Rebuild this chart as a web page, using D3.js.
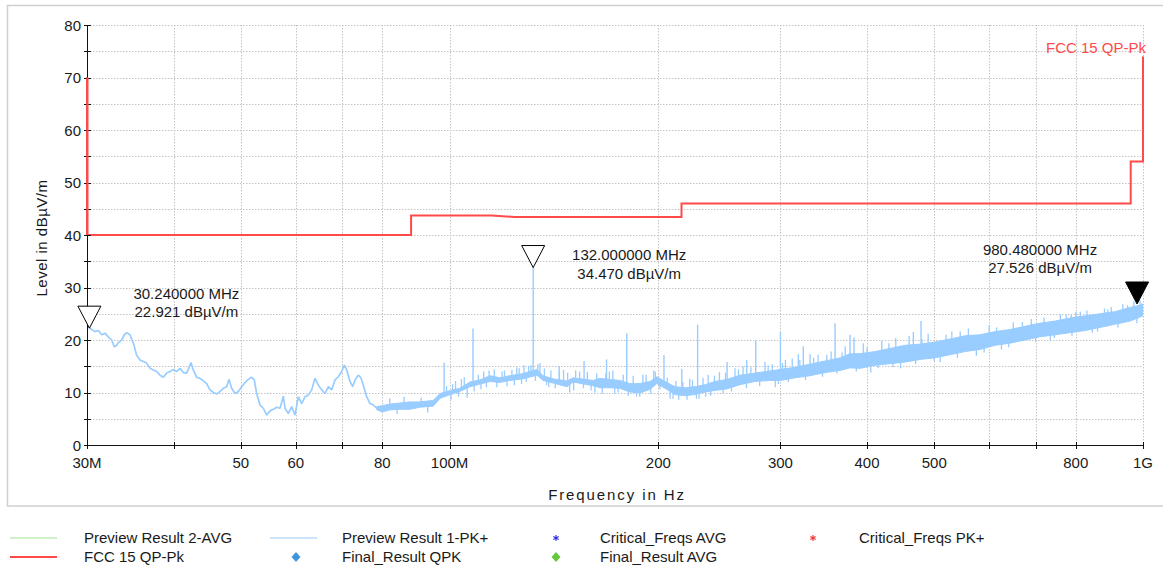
<!DOCTYPE html>
<html>
<head>
<meta charset="utf-8">
<script src="https://cdn.jsdelivr.net/npm/d3@7"></script>
<style>
  html, body { margin: 0; padding: 0; background: #fff; }
  svg { display: block; font-family: "Liberation Sans", Arial, sans-serif; }
  .tick-label { font-size: 15px; fill: #1a1a1a; }
</style>
</head>
<body>
<svg id="chart" width="1163" height="567"></svg>
<script>
// ---- axis ticks (MHz / dBµV/m) ----
const xTickValues = [30, 40, 50, 60, 70, 80, 100, 200, 300, 400, 500, 600, 700, 800, 1000];
const xGridValues = [40, 50, 60, 70, 80, 100, 200, 300, 400, 500, 600, 700, 800, 1000];
const xLabelValues = [30, 50, 60, 80, 100, 200, 300, 400, 500, 800, 1000];
const xLabelTexts = ["30M", "50", "60", "80", "100M", "200", "300", "400", "500", "800", "1G"];
const yTickValues = [0, 5, 10, 15, 20, 25, 30, 35, 40, 45, 50, 55, 60, 65, 70, 75, 80];
const yLabelValues = [0, 10, 20, 30, 40, 50, 60, 70, 80];

// ---- FCC 15 QP-Pk limit line ----
const limitFreq  = [30, 30, 88, 88, 115, 124, 216, 216, 960, 960, 1000, 1000];
const limitLevel = [70, 40, 40, 43.7, 43.7, 43.45, 43.45, 46, 46, 54, 54, 74];

// ---- Preview Result 1-PK+, 30–78.5 MHz: single trace ----
const lineFreq = [30.0, 30.13, 30.47, 30.81, 31.15, 31.50, 31.85, 32.20, 32.56, 32.85, 33.11, 33.29, 33.66,
  33.96, 34.22, 34.60, 34.99, 35.38, 35.77, 36.17, 36.57, 36.98, 37.39, 37.81, 38.23, 38.66, 39.09, 39.52,
  39.96, 40.41, 40.85, 41.31, 41.77, 42.37, 42.70, 43.18, 43.66, 44.15, 44.64, 45.13, 45.64, 46.15, 46.66,
  47.18, 47.70, 48.07, 48.50, 49.04, 49.59, 50.14, 50.70, 51.26, 51.83, 52.29, 52.70, 53.29, 53.88, 54.48,
  55.09, 55.70, 56.32, 56.95, 57.58, 57.90, 58.54, 59.20, 59.85, 60.52, 61.19, 61.88, 62.56, 63.26, 63.96,
  64.68, 65.40, 66.12, 66.86, 67.60, 68.36, 69.12, 69.89, 70.51, 71.06, 71.85, 72.49, 73.05, 73.86, 74.44,
  75.10, 75.94, 76.78, 77.64, 78.50];
const lineLevel = [22.9, 22.5, 22.0, 21.6, 21.8, 21.0, 21.3, 20.6, 20.0, 18.7, 19.0, 19.5, 20.0,
  21.0, 21.4, 21.0, 19.4, 17.1, 16.2, 15.9, 15.6, 14.6, 14.3, 14.0, 13.3, 12.9, 13.7, 14.0,
  14.4, 14.0, 14.6, 13.8, 13.7, 15.7, 14.3, 12.9, 12.7, 12.2, 11.7, 10.5, 10.0, 9.7, 10.2,
  10.8, 11.1, 12.5, 10.8, 9.8, 10.2, 11.1, 11.9, 12.5, 12.9, 12.4, 9.8, 7.6, 7.0, 5.7,
  6.5, 6.8, 7.2, 7.0, 9.3, 7.0, 6.0, 7.3, 5.7, 9.2, 7.9, 9.2, 9.5, 10.5, 12.7,
  11.4, 10.5, 9.8, 11.1, 10.5, 12.4, 13.0, 14.0, 15.2, 14.3, 12.1, 11.1, 12.4, 13.3, 12.9,
  11.4, 9.2, 7.9, 7.6, 7.0];

// ---- Preview Result 1-PK+, 78.5 MHz–1 GHz: noise band (lower / upper level) ----
const bandFreq = [78.5, 80.0, 82.1, 84.8, 87.7, 90.6, 94.7, 96.9, 100.3, 103.5, 107.0, 110.6, 114.4, 118.2,
  122.2, 127.6, 133.7, 136.4, 141, 147.7, 150.7, 161, 164.8, 170.4, 176, 182, 188.2, 194.6, 199, 204.5,
  211.4, 218.5, 225.9, 233.6, 241.4, 251.3, 262.3, 275.7, 289.8, 300, 315, 331, 348, 366, 378, 391, 411,
  432, 454, 477, 501, 527, 554, 582, 612, 643, 676, 710, 747, 785, 825, 867, 911, 958, 1000];
const bandLo = [6.7, 6.3, 6.7, 6.8, 6.8, 7.2, 7.4, 8.9, 9.6, 10.2, 11.1, 11.6, 12.1, 11.9,
  12.3, 12.6, 13.3, 12.3, 11.8, 11.1, 12.0, 11.3, 10.9, 10.9, 10.8, 10.1, 9.9, 10.6, 11.7, 10.8,
  9.6, 9.4, 9.6, 10.1, 10.4, 10.7, 11.5, 12.1, 12.3, 12.3, 12.8, 13.2, 13.8, 14.2, 14.7, 14.6, 15.2,
  15.5, 15.8, 16.3, 16.6, 17.2, 17.8, 18.2, 19.0, 19.4, 20.0, 20.6, 21.0, 21.4, 21.8, 22.4, 23.0, 23.6, 24.6];
const bandHi = [7.3, 7.5, 7.8, 8.0, 8.2, 8.2, 8.5, 9.8, 10.4, 10.8, 12.0, 12.4, 13.2, 12.8,
  13.2, 13.6, 14.4, 13.2, 12.6, 12.2, 12.8, 12.3, 12.7, 12.5, 12.3, 11.7, 11.7, 12.1, 13.0, 12.1,
  11.1, 10.9, 11.1, 11.5, 12.1, 12.5, 13.3, 13.7, 14.1, 14.4, 14.8, 15.4, 16.0, 16.6, 17.4, 17.4, 17.8,
  18.4, 19.0, 19.2, 19.6, 20.2, 20.8, 21.0, 21.6, 22.0, 22.6, 23.2, 23.6, 24.2, 24.6, 25.0, 25.4, 26.2, 26.8];

// ---- narrowband spikes rising out of the noise floor ----
const spikeFreq  = [98.2, 108.1, 132, 143.9, 156.3, 168.4, 180.1, 203.8, 216.2, 227.9, 251.3, 268.2, 276.4,
  300, 318.4, 323.7, 331, 359.7, 378, 383, 466.5, 478.5, 788, 800];
const spikeLevel = [15.7, 22.2, 34.47, 15.0, 16.0, 16.3, 21.3, 17.1, 14.5, 22.9, 15.8, 16.2, 19.9,
  21.5, 17.3, 18.8, 17.3, 23.2, 21.0, 20.5, 21.5, 23.6, 24.8, 25.4];

// ---- short noise excursions above / below the band ----
const hairFreq = [82, 84, 86, 91, 93, 99, 100.5, 101, 102, 103, 104, 105, 106, 108.5, 110, 111, 112, 113, 114,
  116, 117, 119, 120, 121, 123, 124, 125, 126, 127, 128, 129, 130, 131, 133, 134, 135, 137, 138, 139, 140,
  142, 144, 146, 148, 149, 151, 152, 154, 156, 158, 160, 162, 163, 166, 168, 170, 172, 173, 175, 178, 181,
  184, 186, 188, 190, 192, 195, 197, 198, 201, 206, 208, 210, 212, 214, 217, 220, 222, 224, 227, 229, 232,
  234, 236, 238, 241, 245, 248, 250, 255, 258, 261, 265, 268, 272, 280, 285, 288, 292, 295, 298, 302, 305,
  308, 312, 320, 326, 335, 340, 345, 350, 355, 362, 368, 372, 386, 395, 400, 405, 415, 420, 430, 436, 440,
  447, 460, 470, 480, 490, 500, 510, 520, 530, 540, 545, 560, 575, 590, 600, 615, 625, 640, 650, 670, 690,
  700, 720, 735, 745, 760, 775, 790, 812, 830, 845, 860, 880, 890, 900, 920, 935, 950, 970, 980, 990, 995];
const hairLevel = [8.9, 5.9, 9.2, 9.0, 6.2, 11.2, 8.6, 11.6, 12.2, 9.2, 12.6, 12.9, 9.0, 10.2, 13.4, 10.6, 14.0, 11.0, 14.2,
  14.4, 11.0, 14.0, 14.2, 11.2, 14.3, 11.4, 14.8, 14.6, 11.6, 15.2, 12.0, 15.0, 15.2, 12.2, 15.4, 15.6, 14.6, 11.4, 11.0, 14.2,
  10.8, 13.9, 14.3, 13.8, 10.0, 10.4, 14.2, 14.0, 10.8, 13.9, 10.4, 10.0, 13.6, 9.8, 13.6, 14.0, 14.2, 9.8, 10.0, 13.4, 9.4,
  13.2, 9.2, 9.2, 13.4, 13.4, 9.8, 14.2, 14.0, 10.6, 12.8, 8.8, 8.8, 12.2, 8.6, 12.0, 8.6, 12.6, 12.4, 8.8, 8.8, 12.8,
  9.2, 13.4, 9.4, 13.2, 13.9, 9.8, 13.8, 10.2, 14.6, 14.4, 15.0, 10.8, 14.8, 11.2, 15.8, 15.2, 15.4, 11.0, 11.6, 15.6, 16.2,
  12.0, 16.5, 16.2, 12.4, 16.6, 17.2, 13.0, 17.2, 17.8, 13.6, 17.6, 18.8, 14.0, 19.4, 18.6, 13.8, 14.6, 19.8, 19.4, 14.8, 20.4,
  14.6, 20.8, 15.4, 20.2, 21.2, 16.0, 15.8, 21.0, 21.6, 16.6, 21.6, 22.2, 17.0, 17.6, 22.8, 22.4, 18.2, 18.6, 23.4, 23.4, 24.0,
  19.6, 24.3, 20.0, 20.4, 24.9, 24.8, 20.8, 25.4, 25.6, 21.4, 21.6, 26.0, 25.8, 26.3, 22.4, 26.8, 26.6, 27.4, 23.2, 27.6, 27.0];

// ---- markers ----
const markerFreq   = [30.24, 132, 980.48];
const markerLevel  = [22.921, 34.47, 27.526];
const markerFilled = [false, false, true];
const markerFreqText  = ["30.240000 MHz", "132.000000 MHz", "980.480000 MHz"];
const markerLevelText = ["22.921 dBµV/m", "34.470 dBµV/m", "27.526 dBµV/m"];

// ---- legend ----
const legendNames = ["Preview Result 2-AVG", "Preview Result 1-PK+", "Critical_Freqs AVG", "Critical_Freqs PK+",
  "FCC 15 QP-Pk", "Final_Result QPK", "Final_Result AVG"];
const legendKinds = ["line", "line", "star", "star", "line", "diamond", "diamond"];
const legendColors = ["#9be58c", "#99c9f5", "#2b2bf0", "#f03030", "#ff4a4a", "#3f95dc", "#66c83a"];

// ---------------------------------------------------------------------------
const svg = d3.select("#chart");
const W = 1163;
const plot = { left: 87, right: 1143, top: 25, bottom: 445 };

const x = d3.scaleLog().domain([30, 1000]).range([plot.left, plot.right]);
const y = d3.scaleLinear().domain([0, 80]).range([plot.bottom, plot.top]);

const textColor = "#1a1a1a";
const blue = "#99ccff";
const red = "#ff4a4a";

// outer frame
svg.append("rect")
  .attr("x", 7.5).attr("y", 5.5).attr("width", W + 10).attr("height", 500.5)
  .attr("fill", "none").attr("stroke", "#cfcfcf").attr("stroke-width", 1.5);

// grid
const grid = svg.append("g").attr("stroke", "#c4c4c4").attr("stroke-width", 1)
  .attr("stroke-dasharray", "1.5,1.5").attr("fill", "none");
grid.selectAll("line.h").data(yTickValues.filter(v => v > 0)).join("line")
  .attr("x1", plot.left).attr("x2", plot.right)
  .attr("y1", d => Math.round(y(d)) + 0.5).attr("y2", d => Math.round(y(d)) + 0.5);
grid.selectAll("line.v").data(xGridValues).join("line")
  .attr("x1", d => Math.round(x(d)) + 0.5).attr("x2", d => Math.round(x(d)) + 0.5)
  .attr("y1", plot.top).attr("y2", plot.bottom);

// clip for data
svg.append("clipPath").attr("id", "plotClip").append("rect")
  .attr("x", plot.left).attr("y", plot.top)
  .attr("width", plot.right - plot.left).attr("height", plot.bottom - plot.top);

const dataG = svg.append("g").attr("clip-path", "url(#plotClip)");

// low-frequency trace
dataG.append("path")
  .datum(lineFreq.map((f, i) => ({ f, v: lineLevel[i] })))
  .attr("d", d3.line().x(d => x(d.f)).y(d => y(d.v)))
  .attr("fill", "none").attr("stroke", blue).attr("stroke-width", 1.7).attr("stroke-linejoin", "bevel");

// noise band
const band = bandFreq.map((f, i) => ({ f, lo: bandLo[i], hi: bandHi[i] }));
dataG.append("path")
  .datum(band)
  .attr("d", d3.area().x(d => x(d.f)).y0(d => y(d.lo)).y1(d => y(d.hi)))
  .attr("fill", blue).attr("stroke", blue).attr("stroke-width", 1).attr("stroke-linejoin", "bevel");

// vertical strokes from the middle of the band out to a level
const bisect = d3.bisector(d => d.f).left;
function bandMid(f) {
  const i = Math.min(Math.max(bisect(band, f), 1), band.length - 1);
  const a = band[i - 1], b = band[i];
  const t = (Math.log(f) - Math.log(a.f)) / (Math.log(b.f) - Math.log(a.f));
  return ((a.lo + a.hi) + ((b.lo + b.hi) - (a.lo + a.hi)) * t) / 2;
}
function strokes(freqs, levels, width) {
  dataG.append("g").selectAll("line").data(freqs.map((f, i) => ({ f, v: levels[i] }))).join("line")
    .attr("x1", d => x(d.f)).attr("x2", d => x(d.f))
    .attr("y1", d => y(bandMid(d.f))).attr("y2", d => y(d.v))
    .attr("stroke", blue).attr("stroke-width", width);
}
strokes(hairFreq, hairLevel, 1.3);
strokes(spikeFreq, spikeLevel, 1.4);

// limit line
const limit = limitFreq.map((f, i) => ({ f, v: limitLevel[i] }));
svg.append("path")
  .datum(limit)
  .attr("d", d3.line().x(d => x(d.f)).y(d => y(d.v)))
  .attr("fill", "none").attr("stroke", red).attr("stroke-width", 2);

svg.append("text")
  .attr("x", x(1000) + 3).attr("y", y(limitLevel[limitLevel.length - 1]) - 3.5)
  .attr("text-anchor", "end").attr("font-size", 15).attr("fill", red)
  .text("FCC 15 QP-Pk");

// axes
const axisG = svg.append("g").attr("stroke", "#111").attr("stroke-width", 1);
axisG.append("line").attr("x1", plot.left + 0.5).attr("x2", plot.left + 0.5)
  .attr("y1", plot.top).attr("y2", plot.bottom);
axisG.append("line").attr("x1", plot.left).attr("x2", plot.right)
  .attr("y1", plot.bottom + 0.5).attr("y2", plot.bottom + 0.5);
axisG.selectAll("line.yt").data(yTickValues).join("line")
  .attr("x1", plot.left - 3).attr("x2", plot.left + 4)
  .attr("y1", d => Math.round(y(d)) + 0.5).attr("y2", d => Math.round(y(d)) + 0.5);
axisG.selectAll("line.xt").data(xTickValues).join("line")
  .attr("x1", d => Math.round(x(d)) + 0.5).attr("x2", d => Math.round(x(d)) + 0.5)
  .attr("y1", plot.bottom - 3).attr("y2", plot.bottom + 4);

// vertical part of the limit drawn over the y axis
svg.append("line")
  .attr("x1", x(30) + 0.5).attr("x2", x(30) + 0.5)
  .attr("y1", y(70)).attr("y2", y(40))
  .attr("stroke", red).attr("stroke-width", 2);

svg.selectAll("text.yl").data(yLabelValues).join("text")
  .attr("class", "tick-label")
  .attr("x", plot.left - 6).attr("y", d => y(d) + 5.5)
  .attr("text-anchor", "end")
  .text(d => d);

svg.selectAll("text.xl").data(xLabelValues).join("text")
  .attr("class", "tick-label")
  .attr("x", d => x(d)).attr("y", plot.bottom + 23)
  .attr("text-anchor", "middle")
  .text((d, i) => xLabelTexts[i]);

// axis titles
svg.append("text")
  .attr("x", 617).attr("y", 500)
  .attr("text-anchor", "middle").attr("font-size", 15).attr("letter-spacing", "1.9px")
  .attr("fill", textColor).text("Frequency in Hz");

svg.append("text")
  .attr("transform", "translate(47,238) rotate(-90)")
  .attr("text-anchor", "middle").attr("font-size", 15).attr("letter-spacing", "0.5px")
  .attr("fill", textColor).text("Level in dBµV/m");

// markers (triangle tip sits just below the marked level)
const markerLabelDx = [97, 96, -97];
const markerLabelDy = [-25.7, -4, -45.5];
const tri = (cx, tipY) => `M${cx - 11.5},${tipY - 22}L${cx + 11.5},${tipY - 22}L${cx},${tipY}Z`;
markerFreq.forEach((f, i) => {
  const mx = x(f), my = y(markerLevel[i]);
  svg.append("path")
    .attr("d", tri(mx, my + 3.5))
    .attr("fill", markerFilled[i] ? "#000" : "#fff")
    .attr("stroke", "#000").attr("stroke-width", 1);
  const lg = svg.append("g").attr("font-size", 15).attr("fill", textColor).attr("text-anchor", "middle");
  lg.append("text").attr("x", mx + markerLabelDx[i]).attr("y", my + markerLabelDy[i]).text(markerFreqText[i]);
  lg.append("text").attr("x", mx + markerLabelDx[i]).attr("y", my + markerLabelDy[i] + 18.5).text(markerLevelText[i]);
});

// legend
const legendX = [10, 270, 556, 813];
const legendTextX = [84, 342, 600, 859];
const legendRowY = [538, 557];
const legendCol = [0, 1, 2, 3, 0, 1, 2];
const legendRow = [0, 0, 0, 0, 1, 1, 1];
const legend = svg.append("g");
legendNames.forEach((name, i) => {
  const c = legendCol[i], ly = legendRowY[legendRow[i]];
  const kind = legendKinds[i];
  if (kind === "line") {
    legend.append("line")
      .attr("x1", legendX[c]).attr("x2", legendX[c] + 47)
      .attr("y1", ly).attr("y2", ly)
      .attr("stroke", legendColors[i]).attr("stroke-width", name.startsWith("FCC") ? 2 : 1.2);
  } else if (kind === "diamond") {
    const cx = c === 2 ? legendX[c] : legendX[c] + 26;
    legend.append("path")
      .attr("d", "M0,-5L4.5,0L0,5L-4.5,0Z")
      .attr("transform", `translate(${cx},${ly})`)
      .attr("fill", legendColors[i]);
  } else {
    legend.append("path")
      .attr("d", d3.symbol(d3.symbolAsterisk, 26)())
      .attr("transform", `translate(${legendX[c]},${ly})`)
      .attr("fill", "none").attr("stroke", legendColors[i]).attr("stroke-width", 1.1);
  }
  legend.append("text")
    .attr("x", legendTextX[c]).attr("y", ly + 5)
    .attr("font-size", 15).attr("fill", textColor)
    .text(name);
});
</script>
</body>
</html>
